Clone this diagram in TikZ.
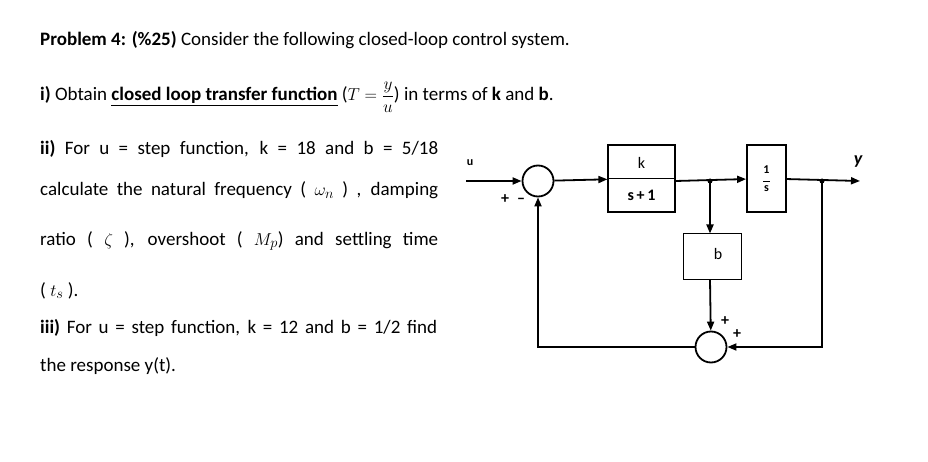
\documentclass[tikz,border=0pt]{standalone}
\usepackage{fontspec}
\setmainfont{Carlito}
\usetikzlibrary{arrows.meta}
\begin{document}
\begin{tikzpicture}[x=1pt,y=-1pt,
  txt/.style={anchor=base west,inner sep=0pt,font=\fontsize{19}{22}\selectfont},
  dt/.style={font=\bfseries\fontsize{16}{18}\selectfont},
  blk/.style={draw,line width=1.2pt,minimum width=#1,inner sep=0pt},
  sumc/.style={draw,circle,line width=1.8pt,minimum size=31pt,inner sep=0pt},
  ln/.style={line width=1.8pt},
  arr/.style={ln,-{Triangle[length=9pt,width=7pt]}},
  sg/.style={inner sep=0pt,font=\bfseries\fontsize{16}{18}\selectfont}]
\useasboundingbox (0,0) rectangle (928,462);
\node[txt] (t1) at (40,46) {\textbf{Problem 4: (\%25)} Consider the following closed-loop control system.};
\node[txt] (t2) at (40,101) {\textbf{i)} Obtain \textbf{\underline{closed loop transfer function}} ($T=\displaystyle\frac{y}{u}$) in terms of \textbf{k} and \textbf{b}.};
\node[txt] (t3) at (40,155) {\makebox[398pt][s]{\textbf{ii)} For u = step function, k = 18 and b = 5/18}};
\node[txt] (t4) at (40,196) {\makebox[398pt][s]{calculate the natural frequency ( $\omega_n$ ) , damping}};
\node[txt] (t5) at (40,245) {\makebox[398pt][s]{ratio ( $\zeta$ ), overshoot ( $M_p$) and settling time}};
\node[txt] (t6) at (40,296) {( $t_s$ ).};
\node[txt] (t7) at (40,333) {\makebox[397pt][s]{\textbf{iii)} For u = step function, k = 12 and b = 1/2 find}};
\node[txt] (t8) at (40,371) {the response y(t).};
% diagram
\node[sumc] (s1) at (538,181) {};
\node[blk=67pt,minimum height=67pt] (k) at (641.5,178.5) {};
\draw[line width=1pt] (k.west) -- (k.east);
\node[dt,font=\fontsize{16}{18}\selectfont] (kt) at (641.5,163) {k};
\node[dt] (kb) at (641.5,195) {s\,+\,1};
\node[blk=39pt,minimum height=67pt,line width=1.8pt] (is) at (766.5,178.5) {};
\node[font=\bfseries\fontsize{12}{12}\selectfont,align=center] (ist) at (766.5,178.5) {1\\[-3pt]\rule{7pt}{1.2pt}\\[-3pt]s};
\node[blk=58pt,minimum height=45pt,line width=1pt] (b) at (712,256.5) {};
\node[dt,font=\fontsize{16}{18}\selectfont] (bt) at (718,254) {b};
\node[sumc] (s2) at (711,347) {};
\coordinate (u0) at (466,181);
\coordinate (br1) at (710,181);
\coordinate (br2) at (822,181);
\coordinate (y0) at (860,181);
\coordinate (bl) at (538,347);
\coordinate (br) at (822,347);
\node[dt,font=\bfseries\fontsize{12}{12}\selectfont] (ul) at (470,163) {u};
\node[dt,font=\bfseries\itshape\fontsize{18}{18}\selectfont] (yl) at (858,162) {y};
\draw[arr] (u0) -- (s1);
\draw[arr] (s1) -- (k);
\draw[arr] (k.east|-br1) -- (is);
\draw[arr] (is) -- (y0);
\draw[arr] (br1) -- (b.north-|br1);
\draw[arr] (b.south-|br1) -- (s2);
\draw[arr] (br2) -- (br) -- (s2);
\draw[arr] (s2) -- (bl) -- (s1);
\fill (br1) circle (2.5pt) (br2) circle (2.5pt);
\node[sg] (p1) at (505,199) {+};
\node[sg] (m1) at (521,201) {--};
\node[sg] (p2) at (725,321) {+};
\node[sg] (p3) at (737,334) {+};
\end{tikzpicture}
\end{document}
